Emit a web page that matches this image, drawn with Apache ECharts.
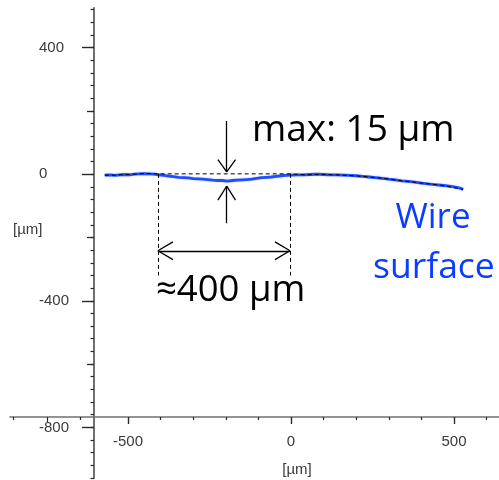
<!DOCTYPE html>
<html>
<head>
<meta charset="utf-8">
<script src="https://cdn.jsdelivr.net/npm/echarts@6/dist/echarts.min.js"></script>
<style>html,body{margin:0;padding:0;background:#fff;}#c{width:499px;height:480px;}</style>
</head>
<body>
<div id="c"></div>
<script>
// ---- data (µm) ----
const surfaceX = [-571,-555,-540,-525,-510,-495,-480,-465,-450,-435,-420,-405,-390,-375,-360,-345,-330,-315,-300,-285,-270,-255,-240,-225,-210,-195,-180,-165,-150,-135,-120,-105,-90,-75,-60,-45,-30,-15,0,20,40,60,80,100,120,140,160,180,200,220,240,260,280,300,320,340,360,380,400,420,440,460,480,500,515,528];
const surfaceY = [-3,-2,-4,-2,-1,-2,0,1,2,1,0,-2,-4,-6,-8,-10,-11,-12,-14,-15,-16,-17,-19,-20,-20,-22,-20,-19,-18,-17,-16,-13,-11,-10,-9,-7,-5,-4,-3,-2,-2,-1,0,-1,-2,-2,-3,-4,-5,-7,-9,-11,-13,-16,-18,-21,-23,-25,-28,-31,-33,-35,-37,-40,-43,-48];
// dashed reference profile (chord over the ~400 µm window)
const refX = [-571,-540,-510,-480,-450,-408,-3,40,100,160,220,280,340,400,460,528];
const refY = [-3,-3,-1,0,2,1,1,-2,-1,-3,-7,-13,-21,-28,-35,-48];
const windowStart = -408, windowEnd = -3;
const dropX = -197;
const xMajorTicks = [-500,0,500];
const xMinorTicks = [-852,-647,-400,-300,-200,-100,100,200,300,400,600];
const xOddTicks = [-749];
const yMajorTicks = [-800,-400,0,400];
const yMidTicks = [-600,-200,200];
const yMinorTicks = [];
for (let v = -960; v <= 520; v += 40) yMinorTicks.push(v);

const surface = surfaceX.map((x,i)=>[x,surfaceY[i]]);
const ref = refX.map((x,i)=>[x,refY[i]]);

const chart = echarts.init(document.getElementById('c'), null, {renderer:'canvas'});
const axisGray = '#707070';
const tickCol = '#2a2a2a';
const labelFont = {fontFamily:'Liberation Sans, Arial', fontSize:15, color:'#3a3a3a'};
const yRange = {min:-960, max:525};
const xRange0 = {min:-604, max:638};
const xRange1 = {min:-862, max:638};

function seg(a,b){return [{coord:a},{coord:b}];}

const blk = {color:'#000', width:1.3, type:'solid'};
const arrows = [
  seg([windowStart,-242],[windowEnd,-242]),
  seg([windowStart,-242],[windowStart+46,-214]),
  seg([windowStart,-242],[windowStart+46,-270]),
  seg([windowEnd,-242],[windowEnd-46,-214]),
  seg([windowEnd,-242],[windowEnd-46,-270]),
  seg([dropX,168],[dropX,7]),
  seg([dropX,7],[dropX-27,46]),
  seg([dropX,7],[dropX+27,46]),
  seg([dropX,-155],[dropX,-38]),
  seg([dropX,-38],[dropX-27,-82]),
  seg([dropX,-38],[dropX+27,-82])
];
const vdash = [
  seg([windowStart,1],[windowStart,-320]),
  seg([windowEnd,1],[windowEnd,-320])
];

chart.setOption({
  animation:false,
  backgroundColor:'#fff',
  grid:[
    {left:94, right:0, top:8, bottom:2},
    {left:10, right:0, top:400, bottom:63}
  ],
  xAxis:[
    Object.assign({gridIndex:0, type:'value', show:false}, xRange0),
    Object.assign({gridIndex:1, type:'value', position:'bottom',
      axisLine:{show:true, onZero:false, lineStyle:{color:axisGray, width:1.6}},
      axisTick:{show:true, length:7, customValues:xMajorTicks, lineStyle:{color:tickCol, width:1.4}},
      axisLabel:Object.assign({customValues:xMajorTicks, margin:17}, labelFont),
      splitLine:{show:false}}, xRange1),
    Object.assign({gridIndex:1, type:'value', position:'bottom',
      axisLine:{show:false, onZero:false},
      axisTick:{show:true, length:3, customValues:xMinorTicks, lineStyle:{color:tickCol, width:1.2}},
      axisLabel:{show:false}, splitLine:{show:false}}, xRange1),
    Object.assign({gridIndex:1, type:'value', position:'bottom',
      axisLine:{show:false, onZero:false},
      axisTick:{show:true, length:5, customValues:xOddTicks, lineStyle:{color:tickCol, width:1.2}},
      axisLabel:{show:false}, splitLine:{show:false}}, xRange1)
  ],
  yAxis:[
    Object.assign({gridIndex:0, type:'value', position:'left',
      axisLine:{show:true, onZero:false, lineStyle:{color:axisGray, width:2}},
      axisTick:{show:true, length:12, customValues:yMajorTicks, lineStyle:{color:tickCol, width:1.4}},
      axisLabel:Object.assign({customValues:yMajorTicks, margin:55, align:'left', padding:[4,0,0,0]}, labelFont),
      splitLine:{show:false}}, yRange),
    Object.assign({gridIndex:0, type:'value', position:'left',
      axisLine:{show:false, onZero:false},
      axisTick:{show:true, length:7, customValues:yMidTicks, lineStyle:{color:tickCol, width:1.3}},
      axisLabel:{show:false}, splitLine:{show:false}}, yRange),
    Object.assign({gridIndex:0, type:'value', position:'left',
      axisLine:{show:false, onZero:false},
      axisTick:{show:true, length:3.5, customValues:yMinorTicks, lineStyle:{color:tickCol, width:1.2}},
      axisLabel:{show:false}, splitLine:{show:false}}, yRange),
    {gridIndex:1, type:'value', show:false, min:0, max:1}
  ],
  series:[
    {type:'line', xAxisIndex:0, yAxisIndex:0, data:surface, symbol:'none', smooth:false,
     lineStyle:{color:'#1f4dff', width:2.8, shadowColor:'rgba(40,80,255,0.35)', shadowBlur:2}, z:3},
    {type:'line', xAxisIndex:0, yAxisIndex:0, data:ref, symbol:'none',
     lineStyle:{color:'#000', width:1, type:[4,3]}, z:4,
     markLine:{silent:true, symbol:'none', animation:false, label:{show:false},
       lineStyle:{color:'#000', width:1, type:[4,3]}, data:vdash}},
    {type:'line', xAxisIndex:0, yAxisIndex:0, data:[], symbol:'none', z:5,
     markLine:{silent:true, symbol:'none', animation:false, label:{show:false},
       lineStyle:blk, data:arrows}}
  ],
  graphic:[
    {type:'text', style:{x:13, y:230, text:'[µm]', font:'15px "Liberation Sans", Arial', fill:'#3a3a3a', verticalAlign:'middle'}},
    {type:'text', style:{x:297, y:470, text:'[µm]', font:'15px "Liberation Sans", Arial', fill:'#3a3a3a', align:'center', verticalAlign:'middle'}},
    {type:'text', z:10, style:{x:252, y:130, text:'max: 15 µm', font:'37px "Open Sans"', fill:'#000', verticalAlign:'middle'}},
    {type:'text', z:10, style:{x:156, y:291, text:'≈400 µm', font:'36.5px "Open Sans"', fill:'#000', verticalAlign:'middle'}},
    {type:'text', z:10, style:{x:433, y:218, text:'Wire', font:'35px "Open Sans"', fill:'#0a3dff', align:'center', verticalAlign:'middle'}},
    {type:'text', z:10, style:{x:373, y:268, text:'surface', font:'35.5px "Open Sans"', fill:'#0a3dff', verticalAlign:'middle'}}
  ]
});
</script>
</body>
</html>
